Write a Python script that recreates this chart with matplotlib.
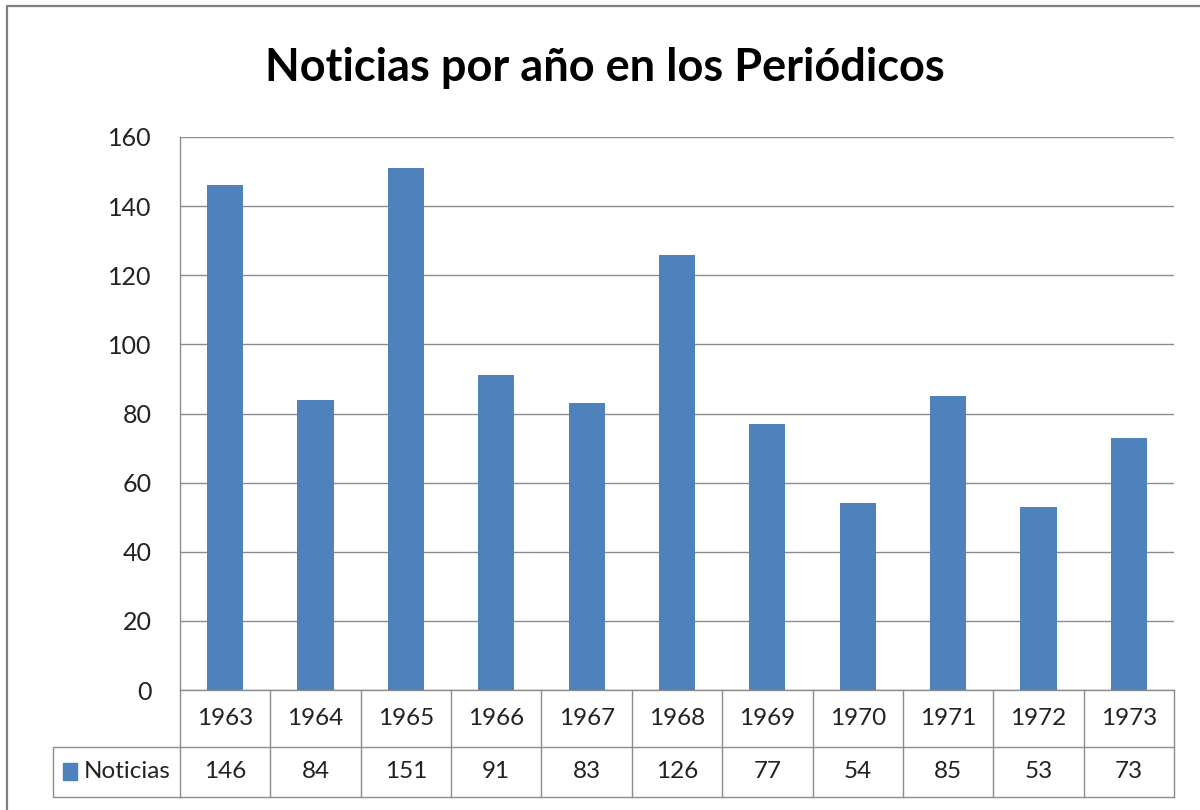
import matplotlib.pyplot as plt
from matplotlib.lines import Line2D
from matplotlib.patches import Rectangle

# datos del gráfico
anos = ['1963', '1964', '1965', '1966', '1967', '1968', '1969', '1970', '1971', '1972', '1973']
noticias = [146, 84, 151, 91, 83, 126, 77, 54, 85, 53, 73]
ticks_y = [0, 20, 40, 60, 80, 100, 120, 140, 160]
serie = 'Noticias'
titulo = 'Noticias por año en los Periódicos'

azul = '#4F81BD'
gris = '#8c8c8c'
plt.rcParams['font.family'] = ['Lato', 'DejaVu Sans']

W, H = 1200, 810
fig = plt.figure(figsize=(W / 100, H / 100), dpi=100)


def fx(px):
    return px / W


def fy(py):
    return 1 - py / H


# marco exterior (solo se ven los bordes izquierdo y superior)
fig.add_artist(Line2D([fx(7), fx(7), 1], [0, fy(6), fy(6)], transform=fig.transFigure,
                      color='#7f7f7f', lw=1.6))

fig.text(fx(605), fy(68), titulo, ha='center', va='center', fontsize=32.5, fontweight='bold')

ax = fig.add_axes([fx(180), fy(690), fx(1174) - fx(180), fy(137) - fy(690)])
x = list(range(len(anos)))
ax.bar(x, noticias, width=0.4, color=azul, zorder=3)
ax.set_xlim(-0.5, len(anos) - 0.5)
ax.set_ylim(ticks_y[0], ticks_y[-1])
ax.set_yticks(ticks_y)
ax.yaxis.grid(True, color=gris, lw=1)
ax.set_axisbelow(True)
ax.tick_params(left=False, bottom=False, labelbottom=False, labelsize=18, pad=17,
               labelcolor='#222222')
for s in ['top', 'right']:
    ax.spines[s].set_visible(False)
for s in ['left', 'bottom']:
    ax.spines[s].set_color(gris)
    ax.spines[s].set_linewidth(1)

# tabla de datos bajo el eje
alto = fy(137) - fy(690)
r1 = -(747 - 690) / H / alto
r2 = -(797 - 690) / H / alto
tr = ax.get_xaxis_transform()
for i in range(len(anos) + 1):
    ax.plot([i - 0.5, i - 0.5], [0, r2], transform=tr, color=gris, lw=1, clip_on=False)
ax.plot([-0.5, len(anos) - 0.5], [r1, r1], transform=tr, color=gris, lw=1, clip_on=False)
ax.plot([-0.5, len(anos) - 0.5], [r2, r2], transform=tr, color=gris, lw=1, clip_on=False)
for i, (a, v) in enumerate(zip(anos, noticias)):
    ax.text(i, r1 / 2, a, transform=tr, ha='center', va='center', fontsize=17.5, color='#222222')
    ax.text(i, (r1 + r2) / 2, str(v), transform=tr, ha='center', va='center', fontsize=17.5,
            color='#222222')

# celda de leyenda
fig.add_artist(Line2D([fx(180), fx(53), fx(53), fx(180)], [fy(747), fy(747), fy(797), fy(797)],
                      transform=fig.transFigure, color=gris, lw=1))
fig.add_artist(Rectangle((fx(63), fy(780)), fx(14), fy(763) - fy(780), transform=fig.transFigure,
                         color=azul))
fig.text(fx(84), fy(772), serie, ha='left', va='center', fontsize=17.5, color='#222222')

fig.savefig('out.png', dpi=100)
